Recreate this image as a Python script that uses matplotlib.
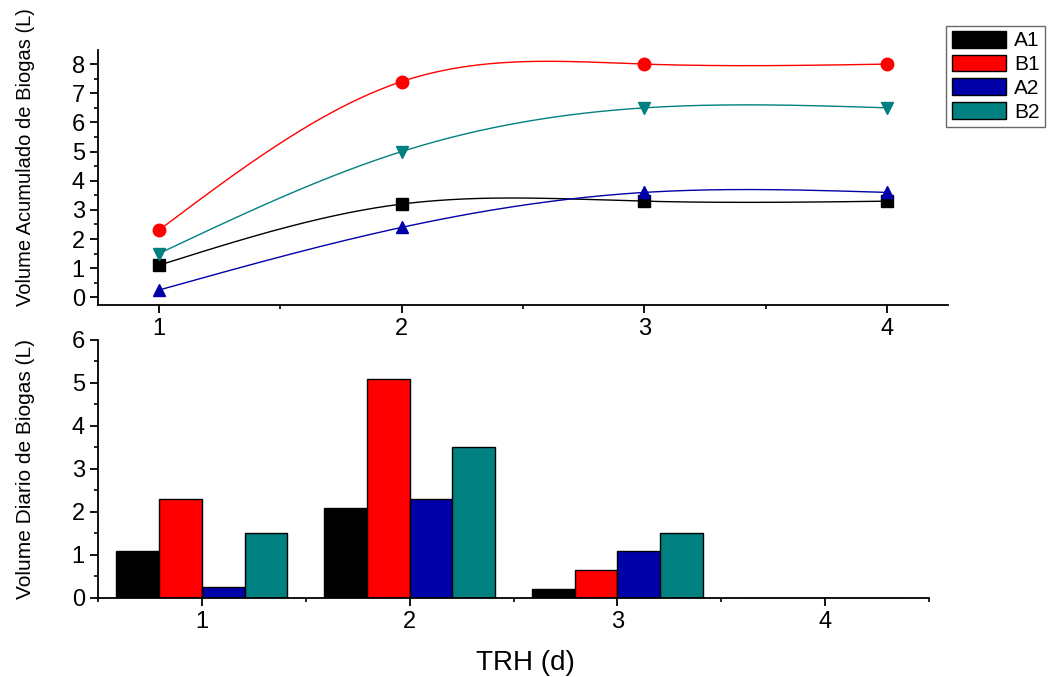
import matplotlib.pyplot as plt
import matplotlib.patches as mpatches
from matplotlib.ticker import MultipleLocator
import numpy as np

plt.rcParams['font.family'] = ['Liberation Sans', 'DejaVu Sans']

# data
trh = [1, 2, 3, 4]
series = ["A1", "B1", "A2", "B2"]
acum_A1 = [1.1, 3.2, 3.3, 3.3]
acum_B1 = [2.3, 7.4, 8.0, 8.0]
acum_A2 = [0.25, 2.4, 3.6, 3.6]
acum_B2 = [1.5, 5.0, 6.5, 6.5]
diario_A1 = [1.1, 2.1, 0.22, 0.0]
diario_B1 = [2.3, 5.1, 0.65, 0.0]
diario_A2 = [0.25, 2.3, 1.1, 0.0]
diario_B2 = [1.5, 3.5, 1.5, 0.0]

colors = ['#000000', '#ff0000', '#0000a8', '#008080']
markers = ['s', 'o', '^', 'v']


def natural_spline(x, y, num=300):
    # smooth connecting line through the points (natural cubic spline)
    x = np.asarray(x, float)
    y = np.asarray(y, float)
    n = len(x)
    h = np.diff(x)
    A = np.zeros((n, n))
    b = np.zeros(n)
    A[0, 0] = 1
    A[-1, -1] = 1
    for i in range(1, n - 1):
        A[i, i - 1] = h[i - 1]
        A[i, i] = 2 * (h[i - 1] + h[i])
        A[i, i + 1] = h[i]
        b[i] = 6 * ((y[i + 1] - y[i]) / h[i] - (y[i] - y[i - 1]) / h[i - 1])
    M = np.linalg.solve(A, b)
    xs = np.linspace(x[0], x[-1], num)
    ys = np.zeros_like(xs)
    for k, xv in enumerate(xs):
        i = min(np.searchsorted(x, xv, side='right') - 1, n - 2)
        t1 = x[i + 1] - xv
        t0 = xv - x[i]
        ys[k] = (M[i] * t1 ** 3 + M[i + 1] * t0 ** 3) / (6 * h[i]) \
            + (y[i] / h[i] - M[i] * h[i] / 6) * t1 \
            + (y[i + 1] / h[i] - M[i + 1] * h[i] / 6) * t0
    return xs, ys


def style_axes(ax):
    ax.spines['top'].set_visible(False)
    ax.spines['right'].set_visible(False)
    ax.spines['left'].set_linewidth(1.3)
    ax.spines['bottom'].set_linewidth(1.3)
    ax.tick_params(which='major', direction='out', length=6, width=1.3, labelsize=17)
    ax.tick_params(which='minor', direction='out', length=3, width=1.2)


fig = plt.figure(figsize=(10.48, 6.77), dpi=100)

# top: accumulated volume
ax1 = fig.add_axes([0.0935, 0.5495, 0.811, 0.3765])
acum = [acum_A1, acum_B1, acum_A2, acum_B2]
for vals, c, m in zip(acum, colors, markers):
    xs, ys = natural_spline(trh, vals)
    ax1.plot(xs, ys, color=c, lw=1.0, zorder=2)
    ax1.plot(trh, vals, linestyle='none', marker=m, color=c, markersize=9, zorder=3)
ax1.set_xlim(0.75, 4.25)
ax1.set_ylim(-0.26, 8.48)
ax1.set_xticks(trh)
ax1.set_yticks(range(0, 9))
ax1.xaxis.set_minor_locator(MultipleLocator(0.5))
ax1.yaxis.set_minor_locator(MultipleLocator(0.5))
ax1.set_ylabel("Volume Acumulado de Biogas (L)", fontsize=14.5)
style_axes(ax1)

# bottom: daily volume
ax2 = fig.add_axes([0.0935, 0.1167, 0.793, 0.3811])
diario = [diario_A1, diario_B1, diario_A2, diario_B2]
width = 0.206
offsets = [-1.5, -0.5, 0.5, 1.5]
for vals, c, off in zip(diario, colors, offsets):
    ax2.bar(np.array(trh) + off * width, vals, width=width, color=c,
            edgecolor='black', linewidth=1.0, zorder=2)
ax2.set_xlim(0.5, 4.5)
ax2.set_ylim(0, 6)
ax2.set_xticks(trh)
ax2.set_yticks(range(0, 7))
ax2.xaxis.set_minor_locator(MultipleLocator(0.5))
ax2.yaxis.set_minor_locator(MultipleLocator(0.5))
ax2.set_ylabel("Volume Diario de Biogas (L)", fontsize=15)
ax2.set_xlabel("TRH (d)", fontsize=20)
style_axes(ax2)

ax1.yaxis.set_label_coords(-0.074, 0.58)
ax2.yaxis.set_label_coords(-0.076, 0.5)
ax2.xaxis.set_label_coords(0.514, -0.2)

handles = [mpatches.Patch(facecolor=c, edgecolor='black', label=s) for s, c in zip(series, colors)]
leg = fig.legend(handles=handles, loc='upper left', bbox_to_anchor=(0.903, 0.962),
                 fontsize=15, frameon=True, fancybox=False, edgecolor='#444444',
                 handlelength=2.6, handleheight=0.85, borderpad=0.25, labelspacing=0.2,
                 handletextpad=0.4, borderaxespad=0)
leg.get_frame().set_linewidth(1.0)

fig.savefig("out.png", dpi=100)
